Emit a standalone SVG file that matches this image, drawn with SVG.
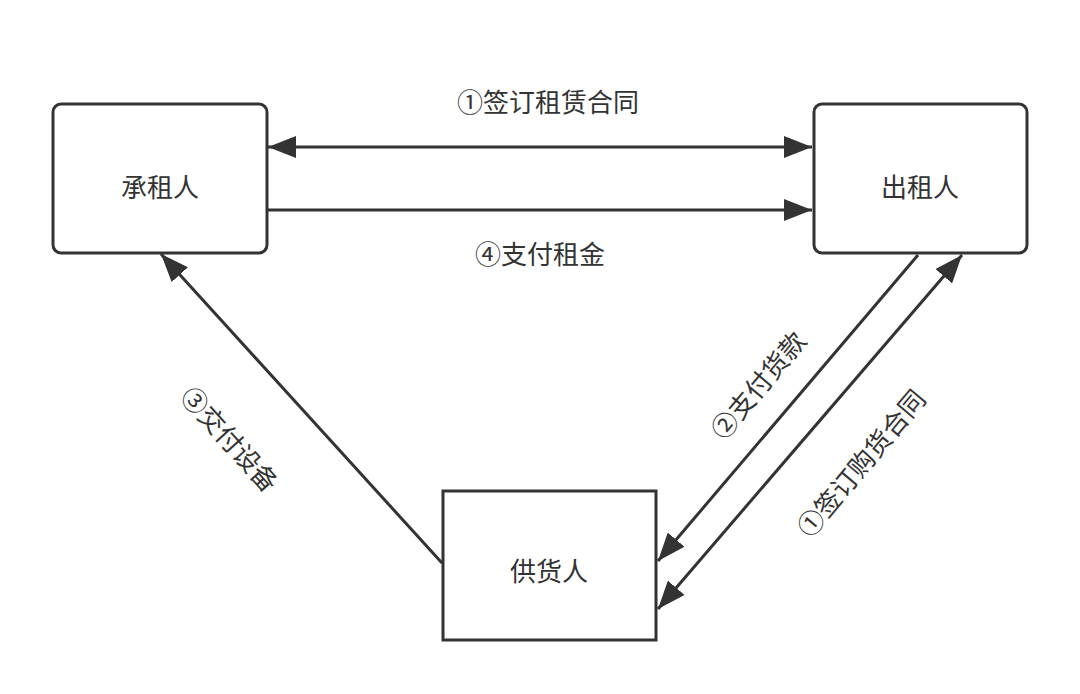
<svg xmlns="http://www.w3.org/2000/svg" width="1080" height="694" viewBox="0 0 1080 694">
<defs>
<marker id="big" viewBox="0 0 28 22" refX="28" refY="11" markerWidth="28" markerHeight="22" markerUnits="userSpaceOnUse" orient="auto-start-reverse"><path d="M0,0 L28,11 L0,22 z" fill="#333"/></marker>
<style>
.box{fill:#fff;stroke:#333;stroke-width:3}
.t{font-family:"Noto Sans CJK SC","Noto Sans",sans-serif;font-size:26px;fill:#333;text-anchor:middle;dominant-baseline:central}
.c{stroke:#333;stroke-width:3;fill:none}
.e{marker-end:url(#big)}
.s{marker-start:url(#big)}
</style>
</defs>
<rect width="1080" height="694" fill="#fff"/>
<g id="lessee"><rect class="box" x="53" y="104" width="214" height="149" rx="8"/><text class="t" x="160" y="185">承租人</text></g>
<g id="lessor"><rect class="box" x="814" y="104" width="213" height="149" rx="8"/><text class="t" x="920" y="185">出租人</text></g>
<g id="supplier"><rect class="box" x="443" y="491" width="213" height="149"/><text class="t" x="549" y="569">供货人</text></g>
<g id="connectors">
<line class="c s e" x1="268" y1="147" x2="812" y2="147"/>
<line class="c e" x1="268" y1="210" x2="812" y2="210"/>
<line class="c e" x1="442" y1="563" x2="161" y2="254"/>
<line class="c e" x1="918" y1="255" x2="658" y2="561"/>
<line class="c s e" x1="962" y1="255" x2="658" y2="609"/>
</g>
<g id="labels">
<text class="t" x="548" y="100">①签订租赁合同</text>
<text class="t" x="540" y="252">④支付租金</text>
<text class="t" transform="translate(231,438) rotate(48)">③交付设备</text>
<text class="t" transform="translate(757,384) rotate(-50)">②支付货款</text>
<text class="t" transform="translate(860,462) rotate(-50)">①签订购货合同</text>
</g>
</svg>
